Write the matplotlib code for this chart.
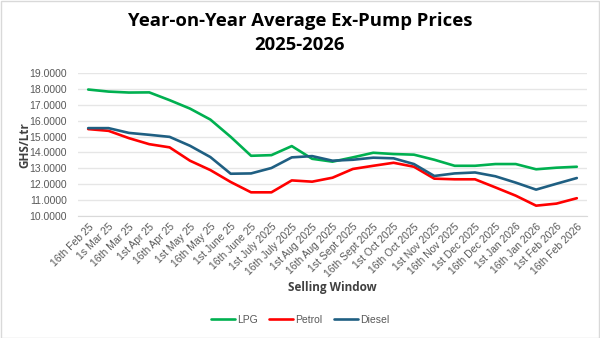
import matplotlib
matplotlib.use("Agg")
import matplotlib.pyplot as plt
from matplotlib.patches import Rectangle

windows = [
    "16th Feb 25", "1s Mar 25", "16th Mar 25", "1st Apr 25", "16th Apr 25",
    "1st May 25", "16th May 25", "1st June 25", "16th June 25", "1st July 2025",
    "16th July 2025", "1st Aug 2025", "16th Aug 2025", "1st Sept 2025",
    "16th Sept 2025", "1st Oct 2025", "16th Oct 2025", "1st Nov 2025",
    "16th Nov 2025", "1st Dec 2025", "16th Dec 2025", "1st Jan 2026",
    "16th Jan 2026", "1st Feb 2026", "16th Feb 2026",
]

lpg = [17.96, 17.83, 17.77, 17.78, 17.29, 16.76, 16.07, 14.98, 13.79, 13.83,
       14.40, 13.60, 13.42, 13.69, 13.98, 13.90, 13.86, 13.54, 13.16, 13.16,
       13.27, 13.27, 12.94, 13.04, 13.10]
petrol = [15.47, 15.36, 14.90, 14.52, 14.32, 13.48, 12.89, 12.14, 11.49, 11.49,
          12.24, 12.16, 12.41, 12.96, 13.16, 13.35, 13.10, 12.35, 12.31, 12.31,
          11.80, 11.28, 10.65, 10.78, 11.12]
diesel = [15.53, 15.53, 15.23, 15.11, 14.98, 14.42, 13.71, 12.66, 12.68, 13.02,
          13.69, 13.77, 13.48, 13.54, 13.67, 13.63, 13.27, 12.52, 12.68, 12.74,
          12.50, 12.10, 11.66, 12.03, 12.39]

yticks = [10, 11, 12, 13, 14, 15, 16, 17, 18, 19]

series = [("LPG", lpg, "#00B050"), ("Petrol", petrol, "#FF0000"),
          ("Diesel", diesel, "#1F5F82")]

plt.rcParams["font.family"] = ["Liberation Sans", "DejaVu Sans"]
bold_family = ["Open Sans", "DejaVu Sans"]

fig = plt.figure(figsize=(6.0, 3.38), dpi=100)
ax = fig.add_axes([78 / 600, 1 - 216 / 338, (587 - 78) / 600, (216 - 73) / 338])

x = list(range(len(windows)))
for name, vals, col in series:
    ax.plot(x, vals, color=col, linewidth=1.9, label=name, solid_capstyle="round")

ax.set_ylim(10, 19)
ax.set_xlim(-0.5, len(windows) - 0.5)
ax.set_yticks(yticks)
ax.set_yticklabels([f"{v:.4f}" for v in yticks])
ax.set_xticks(x)
ax.set_xticklabels(windows, rotation=45, ha="right", rotation_mode="anchor")
ax.tick_params(axis="both", length=0, labelsize=7.5, colors="#595959")
ax.tick_params(axis="x", pad=4)
ax.tick_params(axis="y", pad=8)

ax.grid(axis="y", color="#E6E6E6", linewidth=1.0)
ax.set_axisbelow(True)
for side in ["top", "right", "left"]:
    ax.spines[side].set_visible(False)
ax.spines["bottom"].set_color("#D9D9D9")

fig.text(25 / 600, 1 - 145 / 338, "GHS/Ltr", rotation=90, ha="center", va="center",
         fontsize=8.5, fontweight="bold", color="#404040", family=bold_family)
fig.text(332 / 600, 1 - 288 / 338, "Selling Window", ha="center", va="center",
         fontsize=8.5, fontweight="bold", color="#404040", family=bold_family)

fig.text(0.5, 1 - 21 / 338, "Year-on-Year Average Ex-Pump Prices", ha="center",
         va="center", fontsize=13.3, fontweight="bold", color="black",
         family=bold_family)
fig.text(0.5, 1 - 45 / 338, "2025-2026", ha="center", va="center",
         fontsize=13.3, fontweight="bold", color="black", family=bold_family)

fig.legend(loc="center", bbox_to_anchor=(0.5, 1 - 320 / 338), ncol=3,
           frameon=False, fontsize=7.5, handlelength=2.3, columnspacing=1.1,
           handletextpad=0.2, labelcolor="#595959")

fig.patches.append(Rectangle((0.5 / 600, 0.5 / 338), 598.5 / 600, 336.5 / 338,
                             transform=fig.transFigure, fill=False,
                             edgecolor="#D9D9D9", linewidth=1.0))

fig.savefig("out.png", dpi=100, facecolor="white")
